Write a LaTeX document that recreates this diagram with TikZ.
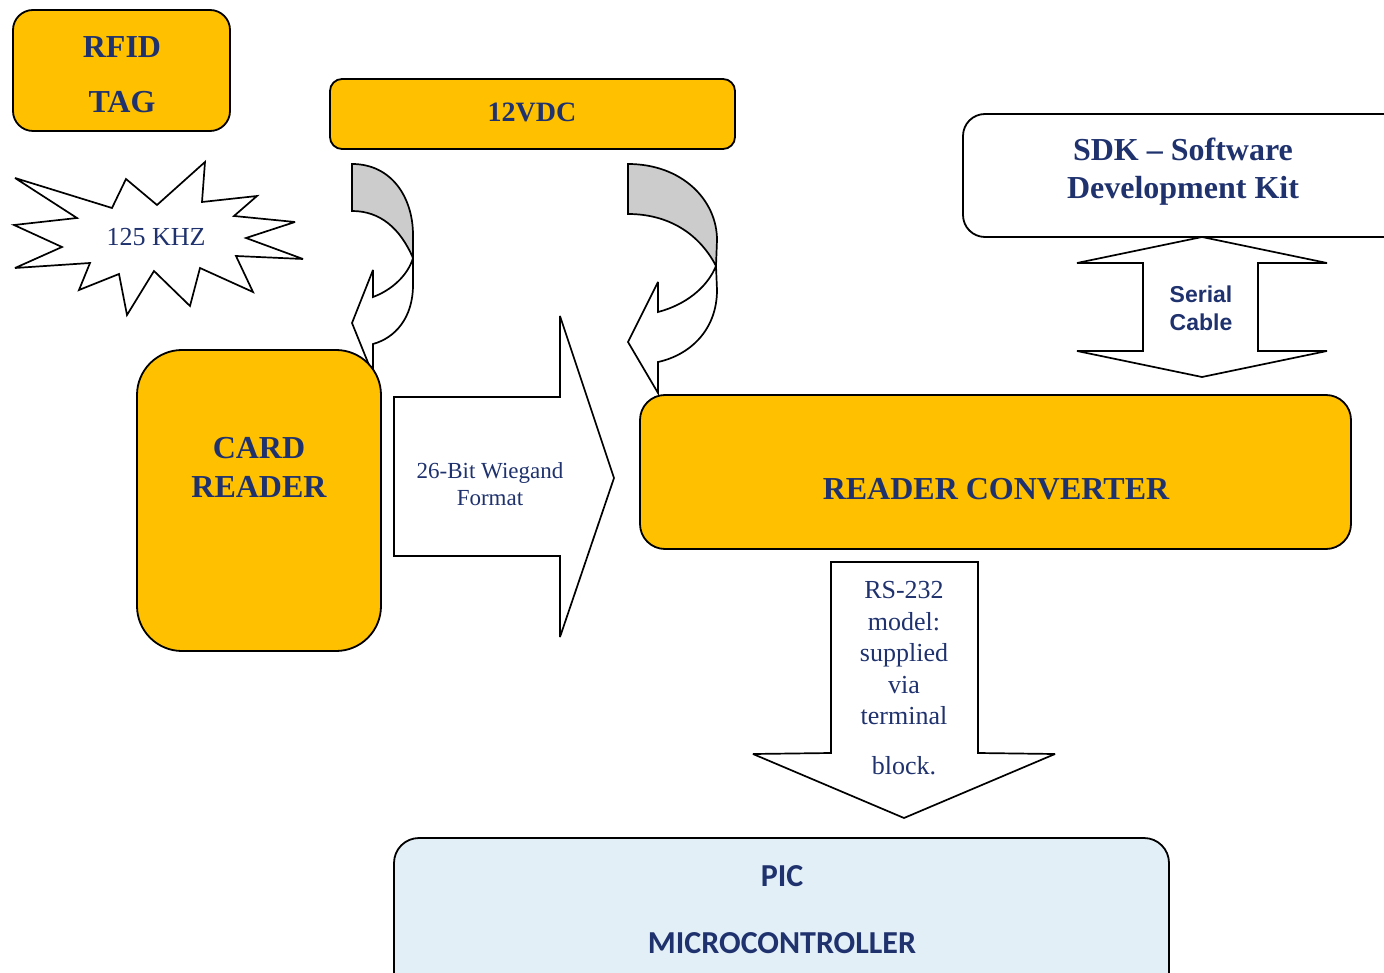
\documentclass[tikz,border=0pt]{standalone}
\usepackage{fontspec}
\setmainfont{Liberation Serif}
\newfontfamily\arialf{Liberation Sans}
\newfontfamily\calibf{Carlito}
\definecolor{orng}{RGB}{255,192,0}
\definecolor{navy}{RGB}{31,50,110}
\definecolor{bandgray}{RGB}{204,204,204}
\definecolor{picblue}{RGB}{227,239,246}
\begin{document}
\begin{tikzpicture}[x=1pt,y=-1pt,line width=1.8pt,line join=miter]
\tikzset{
  box/.style={draw=black,rounded corners=#1,inner sep=0pt,line width=1.8pt},
  obox/.style={box=#1,fill=orng},
  ttl/.style={text=navy,font=\bfseries\fontsize{32}{39}\selectfont,align=center,inner sep=0pt},
  lbl/.style={text=navy,align=center,inner sep=0pt},
  shapeline/.style={draw=black,line width=1.7pt,line join=miter,miter limit=4}
}
\useasboundingbox (0,0) rectangle (1384,973);
\clip (0,0) rectangle (1384,973);

% curved arrow 1 (12VDC -> card reader)
\path[shapeline,fill=bandgray] (352,164) .. controls (392,164) and (413,198) .. (413,235) -- (413,258) .. controls (400,228) and (380,211) .. (352,211) -- cycle;
\path[shapeline,fill=white] (413,258) -- (413,285) .. controls (413,318) and (395,338) .. (373,344) -- (373,375) -- (352,323) -- (373,270) -- (373,297) .. controls (392,290) and (408,275) .. (413,258) -- cycle;

% curved arrow 2 (12VDC -> reader converter)
\path[shapeline,fill=bandgray] (628,164) .. controls (682,164) and (717,200) .. (717,240) -- (716,266) .. controls (700,235) and (670,214) .. (628,214) -- cycle;
\path[shapeline,fill=white] (716,266) -- (717,290) .. controls (717,330) and (690,355) .. (658,362) -- (658,393) -- (628,342) -- (658,282) -- (658,312) .. controls (685,305) and (707,288) .. (716,266) -- cycle;

% boxes
\node[obox=20pt,minimum width=217pt,minimum height=121pt] (rfid) at (121.5,70.5) {};
\node[obox=12pt,minimum width=405pt,minimum height=70pt] (vdc) at (532.5,114) {};
\node[obox=45pt,minimum width=244pt,minimum height=301pt] (card) at (259,500.5) {};
\node[obox=25pt,minimum width=711pt,minimum height=154pt] (conv) at (995.5,472) {};
\node[box=22pt,fill=white,minimum width=457pt,minimum height=123pt] (sdk) at (1191.5,175.5) {};
\node[box=25pt,fill=picblue,minimum width=775pt,minimum height=172pt] (pic) at (781.5,924) {};

% starburst
\path[shapeline,fill=white] (15,178) -- (112,208) -- (126,179) -- (157,205) -- (205,162) -- (202,202) -- (257,196) -- (234,216) -- (295,222) -- (246,238) -- (303,259) -- (236,256) -- (253,292) -- (200,268) -- (190,306) -- (154,271) -- (127,315) -- (119,274) -- (79,290) -- (90,263) -- (15,268) -- (62,247) -- (14,225) -- (77,218) -- cycle;

% Wiegand block arrow
\path[shapeline,fill=white] (394,397) -- (560,397) -- (560,316) -- (614,478) -- (560,637) -- (560,556) -- (394,556) -- cycle;

% Serial cable up-down arrow
\path[shapeline,fill=white] (1202,237) -- (1327,263) -- (1258,263) -- (1258,351) -- (1327,351) -- (1202,377) -- (1077,351) -- (1143,351) -- (1143,263) -- (1077,263) -- cycle;

% RS-232 down arrow
\path[shapeline,fill=white] (831,562) -- (978,562) -- (978,753) -- (1055,754) -- (904,818) -- (753,754) -- (831,753) -- cycle;

% texts
\node[ttl,font=\bfseries\fontsize{32}{55}\selectfont] (trfid) at (122,74.5) {RFID\\TAG};
\node[ttl,font=\bfseries\fontsize{28}{34}\selectfont] (tvdc) at (532,112) {12VDC};
\node[ttl] (tcard) at (259,467.5) {CARD\\READER};
\node[ttl] (tconv) at (996,489) {READER CONVERTER};
\node[ttl,font=\bfseries\fontsize{32}{38}\selectfont] (tsdk) at (1183,172) {SDK -- Software\\Development Kit};
\node[lbl,font=\fontsize{26}{31}\selectfont] (tkhz) at (156,237) {125 KHZ};
\node[lbl,font=\fontsize{23}{27}\selectfont] (twieg) at (490,484) {26-Bit Wiegand\\Format};
\node[lbl,font=\arialf\bfseries\fontsize{23}{28}\selectfont] (tser) at (1201,308) {Serial\\Cable};
\node[lbl,font=\fontsize{26}{31.5}\selectfont] (trs) at (904,678) {RS-232\\model:\\supplied\\via\\terminal\\[18pt]block.};
\node[lbl,font=\calibf\bfseries\fontsize{32}{67}\selectfont] (tpic) at (782,910) {PIC\\MICROCONTROLLER};
\end{tikzpicture}
\end{document}
